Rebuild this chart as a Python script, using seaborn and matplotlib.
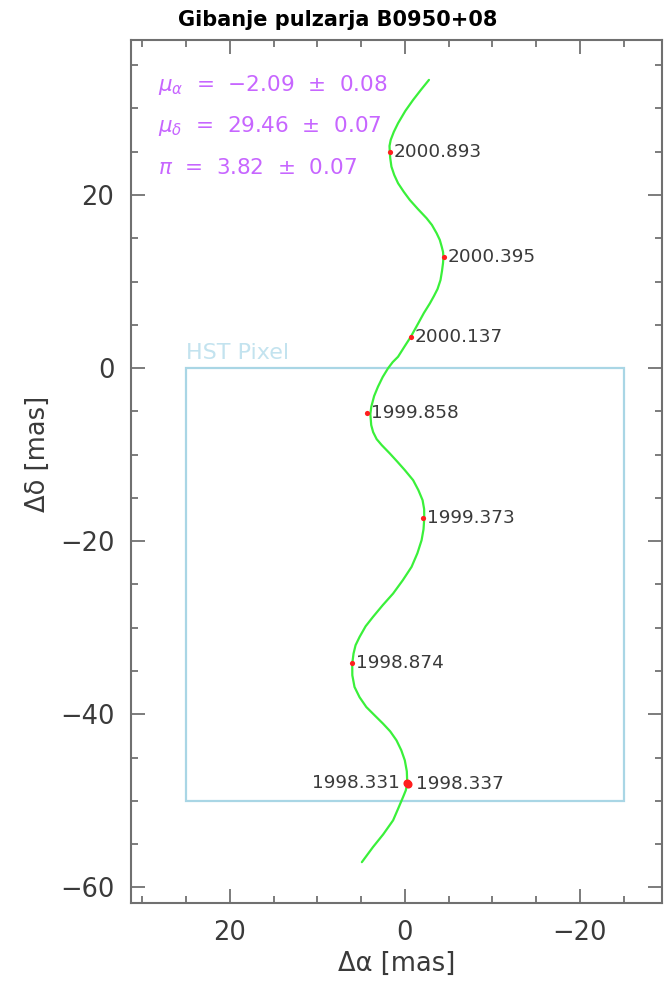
import matplotlib
matplotlib.use("Agg")
import matplotlib.pyplot as plt
import seaborn as sns
import pandas as pd
from matplotlib.ticker import MultipleLocator
from matplotlib.patches import Rectangle

# ---- data ----
curve_ra = [-2.76, -1.84, -0.95, -0.06, 0.77, 1.26, 1.61, 1.75, 1.72, 1.67, 1.53, 1.21,
            0.77, 0.11, -0.57, -1.49, -2.49, -3.10, -3.64, -4.00, -4.22, -4.37, -4.41, -4.37,
            -4.25, -4.08, -3.74, -3.33, -2.87, -2.18, -1.53, -0.69, 0.0, 0.77, 1.38, 1.92,
            2.53, 3.07, 3.51, 3.83, 3.94, 3.84, 3.62, 3.22, 2.64, 1.72, 0.86,
            0.0, -0.95, -1.55, -2.03, -2.21, -2.22, -2.14, -1.92, -1.44, -0.77, 0.23, 1.34,
            2.53, 3.64, 4.48, 5.17, 5.63, 5.86, 6.01, 6.00, 5.75, 5.17, 4.40, 3.45,
            2.49, 1.67, 0.95, 0.40, 0.0, -0.23, -0.28, -0.11, 0.20, 0.75, 1.34, 2.47,
            3.64, 4.91]
curve_dec = [33.29, 32.14, 30.98, 29.71, 28.29, 27.28, 26.36, 25.66, 25.01, 24.28, 23.27, 22.31,
             21.35, 20.35, 19.42, 18.38, 17.31, 16.53, 15.57, 14.80, 14.02, 13.41, 12.83, 12.14,
             11.21, 10.17, 9.13, 8.32, 7.48, 6.36, 5.16, 3.62, 2.54, 1.31, 0.69, -0.03,
             -1.04, -2.16, -3.24, -4.47, -5.32, -6.59, -7.40, -8.21, -8.90, -9.86, -10.81,
             -11.79, -12.95, -14.10, -15.26, -16.30, -17.38, -18.61, -19.88, -21.39, -22.97, -24.51, -26.05,
             -27.40, -28.75, -29.83, -31.06, -32.02, -32.98, -34.14, -35.49, -36.84, -38.03, -39.16, -40.12,
             -41.08, -41.97, -43.01, -44.16, -45.32, -46.59, -48.01, -48.79, -49.56, -50.87, -52.25, -53.87,
             -55.34, -57.08]

epochs = ["2000.893", "2000.395", "2000.137", "1999.858", "1999.373", "1998.874", "1998.331", "1998.337"]
obs_ra = [1.73, -4.43, -0.69, 4.35, -2.04, 6.04, -0.20, -0.35]
obs_dec = [24.98, 12.85, 3.61, -5.23, -17.36, -34.10, -47.90, -48.05]

fit_labels = [r"$\mu_\alpha$  =  −2.09  ±  0.08",
              r"$\mu_\delta$  =  29.46  ±  0.07",
              r"$\pi$  =  3.82  ±  0.07"]

title = "Gibanje pulzarja B0950+08"
xlabel = "Δα [mas]"
ylabel = "Δδ [mas]"
box_label = "HST Pixel"
xticks = [20, 0, -20]
yticks = [20, 0, -20, -40, -60]

curve_df = pd.DataFrame({"ra": curve_ra, "dec": curve_dec})
obs_df = pd.DataFrame({"ra": obs_ra, "dec": obs_dec, "epoch": epochs})

# ---- figure ----
sns.set_theme(style="white")
plt.rcParams["font.family"] = ["DejaVu Sans"]
plt.rcParams["mathtext.fontset"] = "dejavusans"

fig = plt.figure(figsize=(6.66, 9.81), dpi=100)
ax = fig.add_axes([131/666, 1-903/981, (662-131)/666, (903-40)/981])

# HST pixel box
ax.add_patch(Rectangle((-25, -50), 50, 50, fill=False, edgecolor="#a9d6e5", linewidth=1.6, zorder=1))
ax.text(25, 0.6, box_label, color="#c3e3ef", fontsize=16, ha="left", va="bottom")

sns.lineplot(data=curve_df, x="ra", y="dec", sort=False, estimator=None, color="#3af03a",
             linewidth=1.6, ax=ax, zorder=2)
single = obs_df[~obs_df["epoch"].isin(["1998.331", "1998.337"])]
double = obs_df[obs_df["epoch"].isin(["1998.331", "1998.337"])]
sns.scatterplot(data=single, x="ra", y="dec", color="#ff1e1e", s=14, linewidth=0, ax=ax, zorder=3)
sns.scatterplot(data=double, x="ra", y="dec", color="#ff1e1e", s=34, linewidth=0, ax=ax, zorder=3)

for lab, xr, yd in zip(epochs, obs_ra, obs_dec):
    if lab == "1998.331":
        ax.annotate(lab, (xr, yd), xytext=(-5, 0), textcoords="offset points",
                    ha="right", va="center", fontsize=13.3, color="#3a3a3a")
    elif lab == "1998.337":
        ax.annotate(lab, (xr, yd), xytext=(6, 0), textcoords="offset points",
                    ha="left", va="center", fontsize=13.3, color="#3a3a3a")
    else:
        ax.annotate(lab, (xr, yd), xytext=(3, 0), textcoords="offset points",
                    ha="left", va="center", fontsize=13.3, color="#3a3a3a")

for i, t in enumerate(fit_labels):
    ax.text(158/666, 1 - (85 + 41.5*i)/981, t, transform=fig.transFigure, color="#c766ff",
            fontsize=15.5, ha="left", va="center")

ax.set_xlim(31.3, -29.4)
ax.set_ylim(-61.8, 37.9)
ax.set_xticks(xticks)
ax.set_yticks(yticks)
ax.set_xticklabels([str(v).replace("-", "−") for v in xticks])
ax.set_yticklabels([str(v).replace("-", "−") for v in yticks])
ax.xaxis.set_minor_locator(MultipleLocator(5))
ax.yaxis.set_minor_locator(MultipleLocator(5))
ax.tick_params(which="both", direction="in", top=True, right=True, bottom=True, left=True,
               color="#666666", labelcolor="#3a3a3a", labelsize=18.5)
ax.tick_params(which="major", length=10, width=1.2, pad=12)
ax.tick_params(which="minor", length=5, width=1.2)
for sp in ax.spines.values():
    sp.set_color("#707070")
    sp.set_linewidth(1.5)

ax.set_xlabel(xlabel, fontsize=18.5, color="#3a3a3a")
ax.set_ylabel(ylabel, fontsize=18.5, color="#3a3a3a")
ax.xaxis.set_label_coords(0.5, -0.055)
ax.yaxis.set_label_coords(-0.15, 0.52)

fig.text(338/666, 1 - 20/981, title, fontsize=15, fontweight="bold", color="black",
         ha="center", va="center")

fig.savefig("out.png", dpi=100, facecolor="white")
